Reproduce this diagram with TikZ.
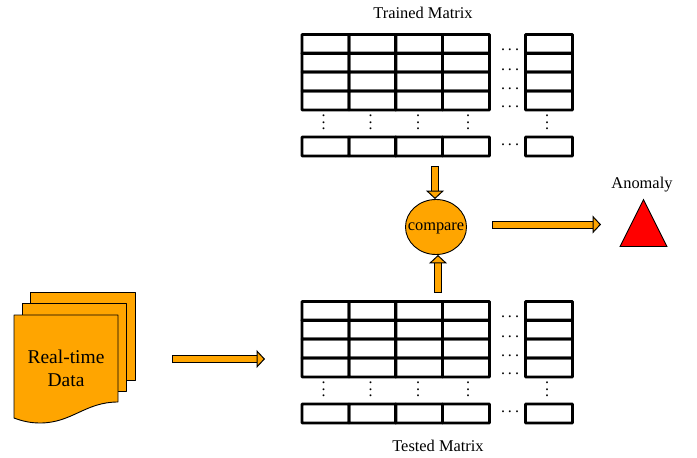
\documentclass[tikz,border=0pt]{standalone}
\usepackage{fontspec}
\setmainfont{Liberation Serif}
\usetikzlibrary{arrows.meta,shapes.geometric}

\definecolor{flow}{HTML}{FFA500}
\tikzset{
  cellbox/.style={draw,line width=2.7pt,rounded corners=0.6pt,inner sep=0pt,minimum width=47pt,minimum height=19pt},
  label/.style={font=\fontsize{16.4}{18}\selectfont,inner sep=0pt},
  dotlabel/.style={font=\fontsize{16}{6.5}\selectfont,align=center,inner sep=0pt},
  sheet/.style={draw,fill=flow,line width=0.9pt,line join=round},
  flowarrow/.style={draw,line width=1pt,double=flow,double distance=6pt,
    {Bar[width=8pt,line width=1pt]}-{Triangle[open,fill=flow,length=8.5pt,width=18pt,line width=1pt]}},
}

\begin{document}
\begin{tikzpicture}[x=1pt,y=-1pt]
  \useasboundingbox (0,0) rectangle (697,458);

  % the two matrices
  \foreach \mat/\off in {train/0,test/267} {
    \foreach \col/\x/\vx in {a/325.5/323.5,b/372.5/370.5,c/419/418,d/466/468,e/549/547} {
      \foreach \row/\y in {p/44,q/62.5,r/81.5,s/100.5,z/146.5} {
        \node[cellbox] (\mat\col\row) at (\x,\y+\off) {};
      }
      \node[dotlabel] (\mat\col v) at (\vx,122.5+\off) {.\\.\\.};
    }
    \foreach \row/\y in {p/50,q/70,r/89,s/107,z/145} {
      \node[dotlabel] (\mat\row h) at (510,\y+\off) {.\kern3pt.\kern3pt.};
    }
  }
  \node[label] (trained) at (423,12.5) {Trained Matrix};
  \node[label] (tested) at (438,446) {Tested Matrix};

  % the data pages
  \draw[sheet] (30,292) -- (135,292) -- (135,380) -- (30,380) -- cycle;
  \draw[sheet] (22,303) -- (126,303) -- (126,391) -- (22,391) -- cycle;
  \draw[sheet] (14,315) -- (118,315) -- (118,402)
    .. controls (85,402) and (72,423) .. (40,423)
    .. controls (30,423) and (22,421) .. (14,418) -- cycle;
  \node[font=\fontsize{19.5}{23}\selectfont,align=center,inner sep=0pt] (data) at (66,368) {Real-time\\Data};

  \node[draw,fill=flow,ellipse,line width=0.9pt,minimum width=61pt,minimum height=55pt,inner sep=0pt] (cmp) at (436,227) {};
  \node[label] (cmptext) at (436,228.5) {compare};
  \node[draw,fill=red,isosceles triangle,isosceles triangle stretches,shape border rotate=90,
    line width=0.9pt,minimum width=47pt,minimum height=47pt,inner sep=0pt] (alert) at (643.5,232) {};
  \node[label] (anomaly) at (642,185) {Anomaly};

  \coordinate (dataout) at (172,359);
  \coordinate (testin) at (265,359);
  \coordinate (trainout) at (435,166);
  \coordinate (testout) at (438,293);
  \coordinate (cmpout) at (492,224.5);
  \coordinate (alertin) at (601,224.5);

  \draw[flowarrow] (dataout) -- (testin);
  \draw[flowarrow] (trainout) -- (trainout|-cmp.north);
  \draw[flowarrow] (testout) -- (testout|-cmp.south);
  \draw[flowarrow] (cmpout) -- (alertin);
\end{tikzpicture}
\end{document}
